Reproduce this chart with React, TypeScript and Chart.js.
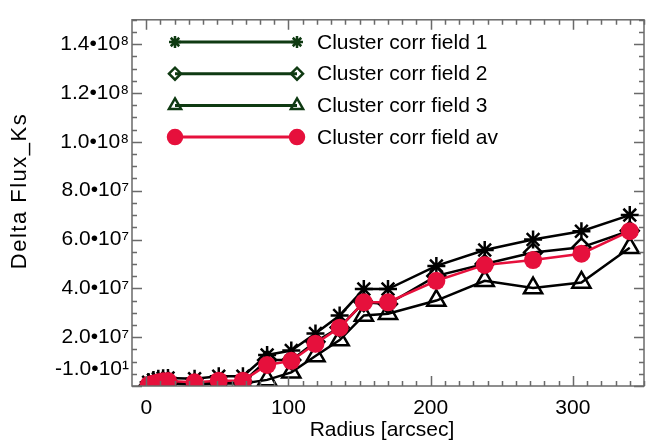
import React, { useEffect, useRef } from 'react';
import { Chart, registerables } from 'chart.js';
import { drawPoint } from 'chart.js/helpers';

Chart.register(...registerables);

// ---- data ----
const radius = [1.7, 5.1, 8.5, 11.9, 15.3, 34, 51, 68, 85, 102, 119, 136, 153, 170, 204, 238, 272, 306, 340];
const field1 = [0.15e7, 0.25e7, 0.3e7, 0.32e7, 0.33e7, 0.3e7, 0.4e7, 0.4e7, 1.27e7, 1.45e7, 2.15e7, 2.89e7, 3.97e7, 3.97e7, 4.92e7, 5.57e7, 6.0e7, 6.34e7, 7.0e7];
const field2 = [0.02e7, 0.05e7, 0.07e7, 0.15e7, 0.17e7, 0.1e7, 0.16e7, 0.16e7, 1.06e7, 1.06e7, 1.81e7, 2.4e7, 3.43e7, 3.36e7, 4.51e7, 5.0e7, 5.47e7, 5.68e7, 6.36e7];
const field3 = [0.0e7, 0.05e7, 0.08e7, 0.1e7, 0.1e7, 0.05e7, 0.1e7, 0.1e7, 0.25e7, 0.56e7, 1.23e7, 1.88e7, 2.89e7, 2.96e7, 3.5e7, 4.31e7, 4.01e7, 4.24e7, 5.66e7];
const fieldAv = [0.05e7, 0.1e7, 0.15e7, 0.19e7, 0.2e7, 0.15e7, 0.22e7, 0.22e7, 0.86e7, 1.03e7, 1.73e7, 2.39e7, 3.43e7, 3.43e7, 4.31e7, 4.96e7, 5.16e7, 5.42e7, 6.34e7];
const seriesLabels = ['Cluster corr field 1', 'Cluster corr field 2', 'Cluster corr field 3', 'Cluster corr field av'];
const xTicks = [0, 100, 200, 300];
const yTicks = [-10, 2e7, 4e7, 6e7, 8e7, 1e8, 1.2e8, 1.4e8];
const xTitle = 'Radius [arcsec]';
const yTitle = 'Delta Flux_Ks';

// ---- styles ----
const FONT = '"Liberation Sans", Arial, Helvetica, sans-serif';
const BLACK = '#000000';
const RED = '#e6103c';
const GREEN = '#0f3a12';
const FRAME = '#6a6a6a';

const SUP: Record<string, string> = { '0': '⁰', '1': '¹', '2': '²', '3': '³', '4': '⁴', '5': '⁵', '6': '⁶', '7': '⁷', '8': '⁸', '9': '⁹', '-': '⁻' };
function sci(v: number): string {
  const e = Math.floor(Math.log10(Math.abs(v)));
  const m = v / Math.pow(10, e);
  return `${m.toFixed(1)}•10${String(e).split('').map((c) => SUP[c]).join('')}`;
}

const pts = (ys: number[]) => radius.map((r, i) => ({ x: r, y: ys[i] }));

const legendStyles = [
  { style: 'star', color: GREEN, fill: 'rgba(0,0,0,0)', r: 6 },
  { style: 'rectRot', color: GREEN, fill: 'rgba(0,0,0,0)', r: 6 },
  { style: 'triangle', color: GREEN, fill: 'rgba(0,0,0,0)', r: 7 },
  { style: 'circle', color: RED, fill: RED, r: 7 },
];

const overlay = {
  id: 'overlay',
  afterDatasetsDraw(chart: any) {
    const { ctx, chartArea: a, scales } = chart;
    const xs = scales.x;
    const ys = scales.y;
    ctx.save();
    // frame
    ctx.strokeStyle = FRAME;
    ctx.lineWidth = 1.5;
    ctx.strokeRect(a.left, a.top, a.right - a.left, a.bottom - a.top);
    // inner ticks
    ctx.beginPath();
    for (let v = 0; v <= 350; v += 10) {
      const px = Math.round(xs.getPixelForValue(v)) + 0.5;
      const len = v % 100 === 0 ? 10 : 5;
      ctx.moveTo(px, a.bottom);
      ctx.lineTo(px, a.bottom - len);
      ctx.moveTo(px, a.top);
      ctx.lineTo(px, a.top + len);
    }
    for (let v = 0; v <= 1.5e8; v += 5e6) {
      const py = Math.round(ys.getPixelForValue(v)) + 0.5;
      const len = v % 2e7 === 0 ? 10 : 5;
      ctx.moveTo(a.left, py);
      ctx.lineTo(a.left + len, py);
      ctx.moveTo(a.right, py);
      ctx.lineTo(a.right - len, py);
    }
    ctx.stroke();

    // legend
    const x1 = 175, x2 = 297, tx = 317, y0 = 42, dy = 31.7;
    seriesLabels.forEach((lab, i) => {
      const y = y0 + i * dy;
      const st = legendStyles[i];
      ctx.strokeStyle = st.color;
      ctx.lineWidth = 3;
      ctx.beginPath();
      ctx.moveTo(x1, y);
      ctx.lineTo(x2, y);
      ctx.stroke();
      ctx.fillStyle = st.fill;
      ctx.lineWidth = 2.5;
      drawPoint(ctx, { pointStyle: st.style, rotation: 0, radius: st.r, borderWidth: 2.5 } as any, x1, y);
      drawPoint(ctx, { pointStyle: st.style, rotation: 0, radius: st.r, borderWidth: 2.5 } as any, x2, y);
      ctx.fillStyle = BLACK;
      ctx.font = `21px ${FONT}`;
      ctx.textAlign = 'left';
      ctx.textBaseline = 'middle';
      ctx.fillText(lab, tx, y + 1);
    });

    // axis titles
    ctx.fillStyle = BLACK;
    ctx.font = `21px ${FONT}`;
    ctx.textAlign = 'center';
    ctx.textBaseline = 'middle';
    ctx.fillText(xTitle, 382, 430);
    ctx.save();
    ctx.translate(20, 191);
    ctx.rotate(-Math.PI / 2);
    ctx.font = `22px ${FONT}`;
    (ctx as any).letterSpacing = '1.5px';
    ctx.fillText(yTitle, 0, 0);
    ctx.restore();
    ctx.restore();
  },
};

export default function App() {
  const ref = useRef<HTMLCanvasElement>(null);
  useEffect(() => {
    document.body.style.margin = '0';
    Chart.defaults.font.family = FONT;
    const chart = new Chart(ref.current!, {
      type: 'line',
      data: {
        datasets: [
          {
            label: seriesLabels[0], data: pts(field1), order: 3,
            borderColor: BLACK, borderWidth: 2.5, pointStyle: 'star', pointRadius: 9,
            pointBorderColor: BLACK, pointBorderWidth: 2.5, pointBackgroundColor: 'rgba(0,0,0,0)', clip: 0,
          },
          {
            label: seriesLabels[1], data: pts(field2), order: 2,
            borderColor: BLACK, borderWidth: 2.5, pointStyle: 'rectRot', pointRadius: 9,
            pointBorderColor: BLACK, pointBorderWidth: 2.5, pointBackgroundColor: 'rgba(0,0,0,0)', clip: 0,
          },
          {
            label: seriesLabels[2], data: pts(field3), order: 1,
            borderColor: BLACK, borderWidth: 2.5, pointStyle: 'triangle', pointRadius: 10.5,
            pointBorderColor: BLACK, pointBorderWidth: 2.5, pointBackgroundColor: 'rgba(0,0,0,0)', clip: 0,
          },
          {
            label: seriesLabels[3], data: pts(fieldAv), order: 0,
            borderColor: RED, borderWidth: 2.5, pointStyle: 'circle', pointRadius: 9,
            pointBorderColor: RED, pointBorderWidth: 0, pointBackgroundColor: RED, clip: 0,
          },
        ] as any,
      },
      options: {
        responsive: false,
        animation: false,
        devicePixelRatio: 1,
        layout: { padding: { top: 18, right: 7, left: 0, bottom: 0 } },
        plugins: { legend: { display: false }, tooltip: { enabled: false } },
        elements: { line: { tension: 0 } },
        scales: {
          x: {
            type: 'linear', min: -10, max: 350,
            grid: { display: false, drawTicks: false }, border: { display: false },
            afterBuildTicks: (s: any) => { s.ticks = xTicks.map((v) => ({ value: v })); },
            afterFit: (s: any) => { s.height = 60; },
            ticks: { padding: 10, color: BLACK, font: { size: 21 }, maxRotation: 0, autoSkip: false, callback: (v: any) => String(v) },
          },
          y: {
            type: 'linear', min: -10, max: 1.5e8,
            grid: { display: false, drawTicks: false }, border: { display: false },
            afterBuildTicks: (s: any) => { s.ticks = yTicks.map((v) => ({ value: v })); },
            afterFit: (s: any) => { s.width = 132; },
            ticks: {
              padding: 3, color: BLACK, font: { size: 21, lineHeight: 1.6 }, autoSkip: false,
              callback: (v: any) => (v === yTicks[0] ? [sci(v), ''] : sci(v)),
            },
          },
        },
      } as any,
      plugins: [overlay],
    });
    return () => chart.destroy();
  }, []);
  return (
    <div style={{ width: 657, height: 446 }}>
      <canvas ref={ref} width={657} height={446} style={{ display: 'block' }} />
    </div>
  );
}
